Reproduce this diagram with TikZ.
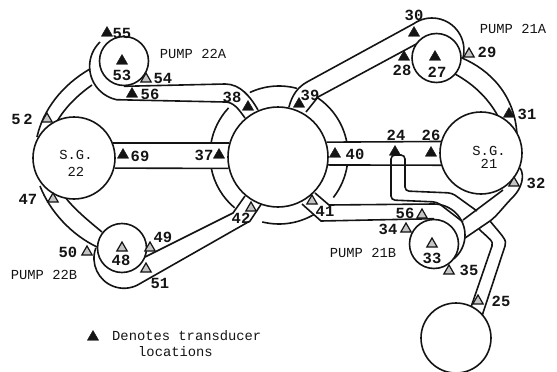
\documentclass[tikz,border=0pt]{standalone}
\usepackage{fontspec}
\setmonofont{Liberation Mono}
\usetikzlibrary{positioning,shapes.geometric,backgrounds}
\definecolor{ink}{HTML}{141414}

\begin{document}
\begin{tikzpicture}[
  x=1pt,y=-1pt,
  pipe/.style={draw=ink,line width=1.6pt},
  vessel/.style={circle,draw=ink,fill=white,line width=1.6pt,inner sep=0pt},
  tri/.style={regular polygon,regular polygon sides=3,fill=ink,draw=ink,line width=0.4pt,inner sep=0pt,minimum size=13pt},
  trio/.style={regular polygon,regular polygon sides=3,fill=ink!25,draw=ink,line width=1.2pt,inner sep=0pt,minimum size=12pt},
  num/.style={font=\fontsize{15.5}{15}\selectfont\ttfamily\bfseries,color=ink,inner sep=0pt},
  lbl/.style={font=\fontsize{13.8}{15}\selectfont\ttfamily,color=ink,inner sep=0pt},
]
\useasboundingbox (0,0) rectangle (557,372);

% vessels and pumps
\node[vessel,minimum size=100pt] (rv) at (278,157) {};
\node[vessel,minimum size=82pt] (sg22) at (74,158) {};
\node[vessel,minimum size=82pt] (sg21) at (481,153) {};
\node[vessel,minimum size=49pt] (p22a) at (124,61) {};
\node[vessel,minimum size=49pt] (p21a) at (436.5,58) {};
\node[vessel,minimum size=49pt] (p22b) at (122,248) {};
\node[vessel,minimum size=49pt] (p21b) at (434,244) {};
\node[vessel,minimum size=70pt] (tank) at (456,338) {};
\coordinate (ring) at (279,155);

\begin{scope}[on background layer]
% ring round the vessel
\foreach \from/\to in {115/75,57/11,-8/-38,-60/-104,-130/-169,170/137}
  \draw[pipe] ([shift={(\from:69pt)}]ring) arc[start angle=\from,end angle=\to,radius=69pt];
% cold legs to the steam generators
\draw[pipe] (sg22.21) -- (rv.164);
\draw[pipe] (sg22.-14) -- (rv.193);
\draw[pipe] (rv.17) -- (sg21.164);
\draw[pipe] (rv.-9) -- (sg21.197);
% loop 22A
\draw[pipe] (100,42) arc[start angle=134,end angle=258,radius=34pt] -- (225,102)
  .. controls (233,102) and (238,108) .. (245,118);
\draw[pipe] (p22a.south) -- (225,84) .. controls (240,84) and (250,96) .. (258,110);
\draw[pipe] (90,69) .. controls (62,85) and (43,110) .. (37,137);
\draw[pipe] (92,85) .. controls (75,97) and (63,110) .. (55,125);
% loop 21A
\draw[pipe] (289,107) .. controls (292,95) and (298,87) .. (307,82) -- (413.6,23.8)
  arc[start angle=125,end angle=-15,radius=32pt];
\draw[pipe] (306,112) -- (318,97) -- (420,42);
\draw[pipe] (462,58) .. controls (490,70) and (515,95) .. (517,135);
\draw[pipe] (455,74) .. controls (475,85) and (490,100) .. (500,120);
% loop 22B
\draw[pipe] (95.8,248) arc[start angle=160,end angle=296,radius=30pt] -- (250,221) -- (262,203);
\draw[pipe] (145,257) -- (233,213) -- (245,196);
\draw[pipe] (40,186) .. controls (50,212) and (72,235) .. (97,247);
\draw[pipe] (65,197) .. controls (75,210) and (90,222) .. (102,232);
% loop 21B
\draw[pipe] (315,193) -- (329,205) -- (434,204) arc[start angle=90,end angle=-50,radius=31pt];
\draw[pipe] (302,204) -- (321,221) -- (p21b.north);
\draw[pipe] (503,190) -- (463,220);
\draw[pipe] (520,168) .. controls (525,175) and (522,188) .. (513,197)
  .. controls (503,207) and (498,215) .. (490,221) -- (465,238);
% line 24 and line 25
\draw[pipe,rounded corners=4pt] (463,222) -- (437,202) -- (391,200) -- (391,155) -- (405,155) -- (405,191) -- (452,193) -- (477,211);
\draw[pipe] (470,310) -- (492,246) .. controls (494,241) and (488,238) .. (479,229);
\draw[pipe] (482,316) -- (505,246) .. controls (507,240) and (504,238) .. (490,221);
\end{scope}

% transducers
\foreach \nm/\tx/\ty in {55/107/33,53/122/61,56/132/94,69/123/155,37/219/155,38/248/107,39/299/104,30/414/33,28/404/57,27/435/57,24/395/152,26/431/153,31/509/114,40/335/154,key/93/337}
  \node[tri] (t\nm) at (\tx,\ty) {};
\foreach \nm/\tx/\ty in {54/146/79,52/47/119,29/469/54,32/514/183,41/312/201,36/422/215,34/406/229,33/432/244,35/449/271,25/478/301,42/251/208,47/53/199,48/122/248,49/150/248,50/87/252,51/146/269}
  \node[trio] (t\nm) at (\tx,\ty) {};

% numbers
\foreach \nm/\tx/\ty/\txt in {55/122/33/55,53/122/75/53,54/163/78/54,56/150/94/56,52/22/119/5\,2,69/140/156/69,37/204/155/37,38/232/97/38,39/310/95/39,30/414/15/30,28/402/70/28,27/437/72/27,29/487/52/29,31/527/114/31,26/431/135/26,24/396/135/24,40/355/154/40,32/536/183/32,41/325/211/41,36/405/213/56,34/388/229/34,33/432/258/33,35/469/270/35,25/501/301/25,42/241/218/42,47/28/199/47,48/121/260/48,49/163/237/49,50/68/252/50,51/160/283/51}
  \node[num] (n\nm) at (\tx,\ty) {\txt};

% plain labels
\node[lbl] (l22a) at (193,54) {PUMP 22A};
\node[lbl] (l21a) at (513,29) {PUMP 21A};
\node[lbl] (l22b) at (44,275) {PUMP 22B};
\node[lbl] (l21b) at (363,253) {PUMP 21B};
\node[lbl,align=center] (lsg22) at (76,163) {S.G.\\[2pt]22};
\node[lbl,align=center] (lsg21) at (489,157) {S.G.\\[-2pt]21};
\node[lbl,anchor=west] (lkey) at (112,336) {Denotes transducer};
\node[lbl,anchor=west] (lkey2) at (138,352) {locations};
\end{tikzpicture}
\end{document}
